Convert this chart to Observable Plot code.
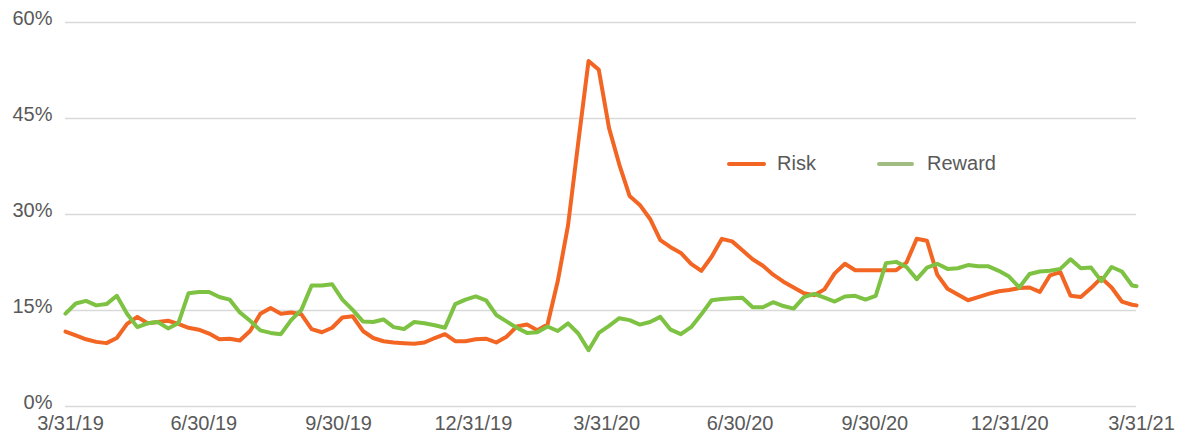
<!DOCTYPE html>
<html><head><meta charset="utf-8">
<script src="https://cdn.jsdelivr.net/npm/d3@7"></script>
<script src="https://cdn.jsdelivr.net/npm/@observablehq/plot@0.6"></script>
<style>
body{margin:0;background:#fff;font-family:"Liberation Sans",Arial,sans-serif;}
#wrap{position:relative;width:1191px;height:443px;}
.lg{position:absolute;font-size:20px;color:#595959;line-height:20px;}
.sw{position:absolute;height:4px;border-radius:2px;}
</style></head><body><div id="wrap"></div>
<script>
const startDate = "2019-03-31";
const endDate = "2021-03-31";
const seriesNames = ["Risk", "Reward"];
const seriesColors = ["#f26522", "#7dc242"];
const legendColors = ["#f26522", "#a2bd82"];

// weekly readings from 3/31/19, last value on 3/31/21 (percent)
const risk = [
  11.7, 11.1, 10.5, 10.1, 9.9, 10.7, 12.9, 14.0, 13.0, 13.2,
  13.4, 12.9, 12.3, 12.0, 11.4, 10.5, 10.6, 10.3, 11.8, 14.5,
  15.4, 14.5, 14.7, 14.4, 12.1, 11.6, 12.3, 13.9, 14.1, 11.8,
  10.7, 10.2, 10.0, 9.9, 9.8, 10.0, 10.7, 11.3, 10.2, 10.2,
  10.5, 10.6, 10.0, 10.9, 12.5, 12.8, 11.9, 12.8, 19.6, 28.3,
  41.3, 54.0, 52.6, 43.5, 37.8, 32.9, 31.5, 29.3, 26.0, 24.9,
  24.0, 22.3, 21.2, 23.4, 26.2, 25.8, 24.4, 23.0, 22.0, 20.6,
  19.5, 18.6, 17.7, 17.4, 18.3, 20.8, 22.3, 21.3, 21.3, 21.3,
  21.3, 21.3, 22.5, 26.2, 25.9, 20.6, 18.4, 17.5, 16.6, 17.1,
  17.6, 18.0, 18.2, 18.5, 18.6, 17.9, 20.5, 21.0, 17.3, 17.1,
  18.5, 20.1, 18.6, 16.4, 15.9, 15.8
];
const reward = [
  14.5, 16.1, 16.5, 15.8, 16.0, 17.3, 14.5, 12.4, 13.0, 13.2,
  12.2, 13.0, 17.7, 17.9, 17.9, 17.1, 16.7, 14.7, 13.4, 11.9,
  11.5, 11.3, 13.5, 15.1, 18.9, 18.9, 19.1, 16.7, 15.1, 13.3,
  13.2, 13.6, 12.4, 12.1, 13.2, 13.0, 12.7, 12.3, 16.0, 16.7,
  17.2, 16.6, 14.3, 13.3, 12.3, 11.5, 11.6, 12.5, 11.8, 13.0,
  11.4, 8.8, 11.5, 12.6, 13.8, 13.5, 12.8, 13.2, 14.0, 12.0,
  11.3, 12.4, 14.4, 16.6, 16.8, 16.9, 17.0, 15.5, 15.5, 16.3,
  15.7, 15.3, 17.1, 17.6, 17.0, 16.4, 17.2, 17.3, 16.7, 17.3,
  22.4, 22.6, 21.8, 19.9, 21.7, 22.3, 21.5, 21.6, 22.1, 21.9,
  21.9, 21.2, 20.3, 18.6, 20.7, 21.1, 21.2, 21.5, 23.0, 21.6,
  21.7, 19.6, 21.8, 21.1, 18.9, 18.8
];
const tickDates = ["2019-03-31","2019-06-30","2019-09-30","2019-12-31","2020-03-31","2020-06-30","2020-09-30","2020-12-31","2021-03-31"];
const tickLabels = ["3/31/19","6/30/19","9/30/19","12/31/19","3/31/20","6/30/20","9/30/20","12/31/20","3/31/21"];
const yTicks = [0, 15, 30, 45, 60];

const start = new Date(startDate + "T00:00:00Z");
const end = new Date(endDate + "T00:00:00Z");
const dates = risk.map((_, i) => i < risk.length - 1 ? d3.utcDay.offset(start, 7 * i) : end);
const rows = [];
[risk, reward].forEach((vals, s) => vals.forEach((v, i) => rows.push({date: dates[i], value: v, series: seriesNames[s]})));
const tDates = tickDates.map(d => new Date(d + "T00:00:00Z"));

const chart = Plot.plot({
  width: 1191, height: 443,
  marginLeft: 65, marginRight: 55, marginTop: 22, marginBottom: 37,
  style: {fontFamily: '"Liberation Sans", Arial, sans-serif', fontSize: "20px", color: "#595959", background: "#fff"},
  x: {type: "utc", domain: [start, end]},
  y: {domain: [0, 60]},
  color: {domain: seriesNames, range: seriesColors},
  marks: [
    Plot.gridY(yTicks, {stroke: "#d9d9d9", strokeOpacity: 1, strokeWidth: 1.3}),
    Plot.axisY(yTicks, {tickSize: 0, tickPadding: 13, dy: -4, tickFormat: d => d + "%", label: null}),
    Plot.axisX(tDates, {tickSize: 0, tickPadding: 9, dx: 5, tickFormat: (d, i) => tickLabels[tDates.findIndex(t => +t === +d)], label: null}),
    Plot.line(rows, {x: "date", y: "value", z: "series", stroke: "series", strokeWidth: 4, strokeLinejoin: "round", strokeLinecap: "round"})
  ]
});
const wrap = document.getElementById("wrap");
wrap.appendChild(chart);

// legend
const legendPos = [{line: 727, w: 39, text: 777}, {line: 877, w: 37, text: 927}];
seriesNames.forEach((name, i) => {
  const sw = document.createElement("div");
  sw.className = "sw";
  sw.style.left = legendPos[i].line + "px";
  sw.style.top = "162px";
  sw.style.width = legendPos[i].w + "px";
  sw.style.background = legendColors[i];
  wrap.appendChild(sw);
  const t = document.createElement("div");
  t.className = "lg";
  t.style.left = legendPos[i].text + "px";
  t.style.top = "153px";
  t.textContent = name;
  wrap.appendChild(t);
});
</script></body></html>
